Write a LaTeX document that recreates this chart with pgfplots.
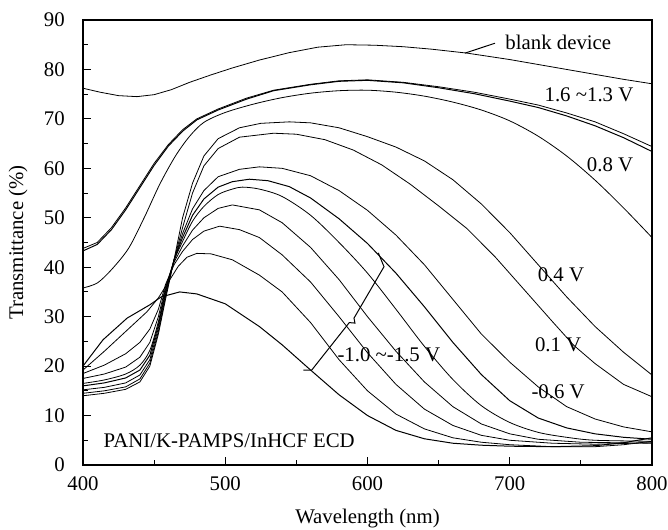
\documentclass[border=0pt]{standalone}
\usepackage{fontspec}
\setmainfont{Liberation Serif}
\usepackage{pgfplots}
\pgfplotsset{compat=1.18}
\begin{document}
\fontsize{10.4}{12.5}\selectfont
\begin{tikzpicture}
\begin{axis}[
  scale only axis, width=284.5pt, height=222.5pt,
  xmin=400, xmax=800, ymin=0, ymax=90,
  xtick={400,500,...,800}, ytick={0,10,...,90},
  minor x tick num=1, minor y tick num=1,
  xtick pos=bottom, ytick pos=left,
  major tick length=4pt, minor tick length=2.5pt,
  tick style={black, line width=0.5pt},
  axis line style={black, line width=0.6pt},
  /pgf/number format/assume math mode=true,
  yticklabel style={xshift=-5.5pt},
  xticklabel style={yshift=-2.3pt},
  xlabel={Wavelength (nm)}, ylabel={Transmittance (\%)},
  xlabel style={at={(axis description cs:0.5,-0.1213)}, anchor=center},
  ylabel style={at={(axis description cs:-0.1142,0.5)}, anchor=center},
  cycle list={{black, solid, line width=0.5pt, smooth, mark=none}},
]
% blank device
\addplot coordinates {(400,76.2)(412,75.4)(425,74.7)(438,74.5)(450,74.9)(462,75.9)(475,77.4)(490,78.9)(505,80.3)(524,81.9)(545,83.4)(565,84.5)(585,85)(605,84.9)(625,84.6)(645,84.1)(670,83.3)(700,82)(730,80.5)(760,79)(780,78)(800,77.1)};
% 1.6 ~ 1.3 V
\addplot coordinates {(400,43.8)(410,45)(420,48)(430,52)(440,56.5)(450,61)(460,64.8)(470,67.8)(480,70)(495,72)(515,74.2)(534,75.8)(560,77)(580,77.7)(600,77.9)(625,77.4)(650,76.5)(675,75.4)(700,74)(720,72.8)(740,71.2)(760,69.4)(780,67)(800,64.4)};
\addplot coordinates {(400,43.3)(410,44.6)(420,47.6)(430,51.6)(440,56.1)(450,60.6)(460,64.5)(470,67.5)(480,69.8)(495,71.8)(515,74)(534,75.7)(560,76.9)(580,77.6)(600,77.8)(625,77.3)(650,76.3)(675,75.1)(700,73.6)(720,72.3)(740,70.6)(760,68.6)(780,66.2)(800,63.4)};
% 0.8 V
\addplot coordinates {(400,35.8)(410,36.8)(420,39.5)(432,43.8)(443,50)(454,56.8)(465,62.5)(475,66.5)(485,69.3)(500,71.3)(520,73)(540,74.3)(560,75.2)(580,75.7)(600,75.8)(620,75.4)(640,74.6)(660,73.4)(680,71.8)(700,69.6)(720,66.5)(740,62.5)(760,57.6)(780,52)(800,46)};
% 0.4 V
\addplot coordinates {(400,14)(415,14.5)(430,15.3)(440,16.8)(447,20)(453,26.5)(458,33.5)(464,41.5)(470,50)(477,57)(485,62.5)(495,66)(510,68.2)(525,69.1)(545,69.4)(560,69.2)(580,68.2)(600,66.4)(620,64.3)(640,61.5)(660,57.7)(680,52.8)(700,47)(720,40.5)(740,34)(760,28)(780,22.8)(800,18.2)};
% 0.1 V
\addplot coordinates {(400,14.5)(415,15)(430,15.8)(440,17.4)(447,20.6)(453,27)(458,34)(464,41.5)(470,48)(477,55)(485,60.5)(495,64)(510,66.3)(534,67.1)(550,66.9)(570,65.8)(590,63.7)(610,60.7)(630,56.8)(650,52.4)(670,47.8)(690,42)(710,35.5)(730,29)(745,24.2)(760,20.5)(780,16.3)(800,13.8)};
% -0.6 V
\addplot coordinates {(400,15.2)(415,15.7)(430,16.6)(440,18.2)(447,21.3)(453,27.7)(458,34.5)(464,41.5)(470,46.8)(477,51.8)(485,55.5)(495,58.3)(510,59.8)(524,60.3)(540,60)(560,58.5)(580,55.5)(600,51.5)(620,46.5)(640,40.5)(660,33.5)(680,26.5)(700,20.8)(720,15.8)(740,11.8)(760,9.3)(780,7.7)(800,6.7)};
% -1.0 ~ -1.5 V
\addplot coordinates {(400,16)(415,16.6)(430,17.6)(440,19.2)(447,22.2)(453,28.3)(458,35)(464,41.5)(470,46)(477,50.5)(485,53.8)(495,56.2)(505,57.3)(517,57.8)(530,57.5)(545,56.3)(560,54)(580,49.8)(600,44.8)(620,38.8)(640,32)(660,24.8)(680,18.3)(700,13)(720,9.5)(740,7.5)(760,6.3)(780,5.6)(800,5.2)};
\addplot coordinates {(400,16.5)(415,17.2)(430,18.4)(440,20.2)(447,23.2)(453,29)(458,35.5)(464,41.3)(470,45.2)(477,49.3)(485,52.3)(495,54.7)(505,55.8)(512,56.2)(524,55.8)(540,54.3)(560,50.5)(580,45)(600,38.8)(620,31.5)(640,24)(660,17.3)(680,12)(700,8.6)(720,6.6)(740,5.6)(760,5)(800,4.8)};
\addplot coordinates {(400,17.5)(415,18.4)(430,19.8)(440,21.8)(447,24.8)(453,30)(458,36)(464,41)(470,44.3)(477,47.5)(485,50)(495,51.9)(505,52.6)(524,51.6)(540,49)(560,44)(580,37.5)(600,30)(620,23)(640,16.8)(660,11.8)(680,8.3)(700,6.3)(720,5.2)(750,4.6)(800,4.4)};
\addplot coordinates {(400,18.5)(415,20.2)(430,22.5)(440,24.8)(447,27.5)(453,31.5)(458,36.5)(464,40.5)(470,43.2)(477,45.6)(485,47.3)(496,48.3)(510,47.6)(524,46)(540,42.5)(560,37)(580,30)(600,22.7)(620,16.3)(640,11.3)(660,8)(680,6)(700,5)(730,4.4)(760,4.2)(800,4.5)};
\addplot coordinates {(400,19.2)(415,23)(430,27)(445,31)(453,33.8)(460,37)(467,40.2)(473,42)(480,42.8)(490,42.7)(505,41.5)(524,38.4)(540,35)(560,28.8)(580,21.3)(600,15)(620,10.3)(640,7.3)(660,5.5)(680,4.6)(700,4.1)(730,3.7)(760,3.7)(780,4.1)(800,4.8)};
\addplot coordinates {(400,20)(414,25.3)(431,29.7)(447,32.4)(455,34)(468,35)(480,34.6)(500,32.6)(524,28)(540,24.3)(560,19.2)(580,14.2)(600,10)(620,7)(640,5.3)(660,4.4)(680,4)(700,3.8)(730,3.7)(760,3.9)(780,4.5)(800,5.5)};

% annotations
\draw[line width=0.5pt] (axis cs:668.5,83.3) -- (axis cs:689.6,85.3);
\node[anchor=west, inner sep=0pt] at (axis cs:696.7,85.4) {blank device};
\node[inner sep=0pt] at (axis cs:755.7,74.8) {1.6 \textasciitilde1.3 V};
\node[inner sep=0pt] at (axis cs:770.5,60.7) {0.8 V};
\node[inner sep=0pt] at (axis cs:736,38.4) {0.4 V};
\node[inner sep=0pt] at (axis cs:734,24.3) {0.1 V};
\node[inner sep=0pt] at (axis cs:734,14.8) {-0.6 V};
\node[inner sep=0pt] at (axis cs:615,22.2) {-1.0 \textasciitilde-1.5 V};
\node[inner sep=0pt] at (axis cs:502.8,4.9) {PANI/K-PAMPS/InHCF ECD};
\draw[line width=0.5pt] (axis cs:554.9,19.2) -- (axis cs:560.8,19.2) -- (axis cs:587.2,28.8) -- (axis cs:591.2,28.7) -- (axis cs:590.5,29.7) -- (axis cs:611.6,40.1) -- (axis cs:607.6,42.9);
\end{axis}
\path (current axis.south west) ++(-41.5pt,-32.5pt) coordinate (bl);
\path (current axis.north east) ++(8pt,10pt) coordinate (tr);
\pgfresetboundingbox
\path (bl) rectangle (tr);
\end{tikzpicture}
\end{document}
